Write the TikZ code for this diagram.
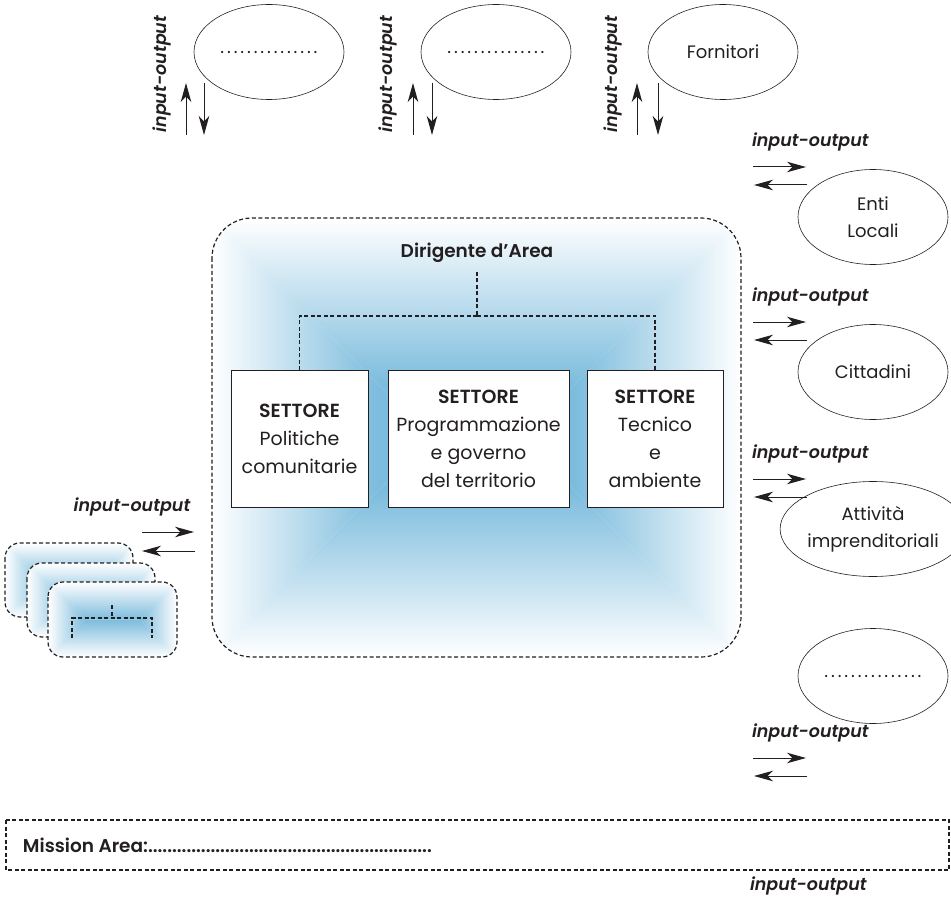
\documentclass[tikz,border=0pt]{standalone}
\usepackage{fontspec}
\setmainfont{Poppins}[BoldFont={Poppins SemiBold}, BoldItalicFont={Poppins SemiBold Italic}]
\usetikzlibrary{arrows.meta,shapes.geometric}
\definecolor{glow}{RGB}{124,188,221}
\definecolor{ink}{RGB}{35,31,32}
% main-box shadings (fade over the outer three quarters of the depth)
\pgfdeclareverticalshading{glowT}{100bp}{color(0bp)=(glow); color(37bp)=(glow); color(75bp)=(white); color(100bp)=(white)}
\pgfdeclareverticalshading{glowB}{100bp}{color(0bp)=(white); color(25bp)=(white); color(63bp)=(glow); color(100bp)=(glow)}
\pgfdeclarehorizontalshading{glowL}{100bp}{color(0bp)=(white); color(25bp)=(white); color(63bp)=(glow); color(100bp)=(glow)}
\pgfdeclarehorizontalshading{glowR}{100bp}{color(0bp)=(glow); color(37bp)=(glow); color(75bp)=(white); color(100bp)=(white)}
% full-depth shadings for the small boxes
\pgfdeclareverticalshading{glowTf}{100bp}{color(0bp)=(glow); color(25bp)=(glow); color(75bp)=(white); color(100bp)=(white)}
\pgfdeclareverticalshading{glowBf}{100bp}{color(0bp)=(white); color(25bp)=(white); color(75bp)=(glow); color(100bp)=(glow)}
\pgfdeclarehorizontalshading{glowLf}{100bp}{color(0bp)=(white); color(25bp)=(white); color(75bp)=(glow); color(100bp)=(glow)}
\pgfdeclarehorizontalshading{glowRf}{100bp}{color(0bp)=(glow); color(25bp)=(glow); color(75bp)=(white); color(100bp)=(white)}
% #1 x0, #2 y0, #3 x1, #4 y1, #5 radius, #6 shading suffix
\newcommand\glowrect[6]{%
  \pgfmathsetmacro\ghh{(#4-#2)/2}%
  \pgfmathsetmacro\gym{(#2+#4)/2}%
  \pgfmathsetmacro\gxa{#1+\ghh}%
  \pgfmathsetmacro\gxb{#3-\ghh}%
  \begin{scope}
    \clip[rounded corners=#5] (#1,#2) rectangle (#3,#4);
    \fill[white] (#1,#2) rectangle (#3,#4);
    \shade[shading=glowT#6] (#1,#2) -- (#3,#2) -- (\gxb,\gym) -- (\gxa,\gym) -- cycle;
    \shade[shading=glowB#6] (#1,#4) -- (#3,#4) -- (\gxb,\gym) -- (\gxa,\gym) -- cycle;
    \shade[shading=glowL#6] (#1,#2) -- (#1,#4) -- (\gxa,\gym) -- cycle;
    \shade[shading=glowR#6] (#3,#2) -- (#3,#4) -- (\gxb,\gym) -- cycle;
  \end{scope}
  \draw[org, rounded corners=#5] (#1,#2) rectangle (#3,#4);
}
\begin{document}
\begin{tikzpicture}[x=1pt,y=-1pt,
  every node/.style={inner sep=0pt, outer sep=0pt, text=ink},
  bub/.style={draw=ink, line width=0.6pt, ellipse, minimum width=150pt, minimum height=95pt, align=center, font=\fontsize{18}{27}\selectfont},
  io/.style={font=\fontsize{17.5}{20}\selectfont\bfseries\itshape},
  flow/.style={draw=ink, line width=1pt, -{Stealth[length=19pt,width=10.5pt,inset=5.5pt]}},
  org/.style={draw=ink, dash pattern=on 4pt off 2.5pt, line width=1.2pt},
  sbox/.style={draw=ink, fill=white, line width=0.9pt, minimum height=137pt, align=center, font=\fontsize{19}{28}\selectfont},
  dotline/.style={font=\fontsize{18}{20}\selectfont\addfontfeature{LetterSpace=16}}
]
\useasboundingbox (0,0) rectangle (951,912);

% ---------- top ellipses ----------
\node[bub] (e1) at (269,52) {};
\node[bub] (e2) at (496,52) {};
\node[bub] (e3) at (723,52) {Fornitori};
\node[dotline] (e1t) at (e1.center) {...............};
\node[dotline] (e2t) at (e2.center) {...............};
\node[io, rotate=90] (l1) at (162,74) {input-output};
\node[io, rotate=90] (l2) at (388,74) {input-output};
\node[io, rotate=90] (l3) at (613,74) {input-output};
\foreach \ux/\dx/\n in {186/204/1, 413/432/2, 637/658/3}{
  \coordinate (ua\n) at (\ux,135); \coordinate (ub\n) at (\ux,83);
  \coordinate (da\n) at (\dx,83);  \coordinate (db\n) at (\dx,135);
  \draw[flow] (ua\n) -- (ub\n);
  \draw[flow] (da\n) -- (db\n);
}

% ---------- right side ----------
\node[bub] (r1) at (873,217) {Enti\\Locali};
\node[bub] (r2) at (873,372) {Cittadini};
\node[bub] (r3) at (873,529) {Attività\\imprenditoriali};
\node[bub] (r4) at (873,676) {};
\node[dotline] (r4t) at (r4.center) {...............};
\foreach \ly/\n in {142/1, 297/2, 454/3, 733/4}{
  \node[io, anchor=west] (rl\n) at (752,\ly) {input-output};
  \coordinate (ra\n) at (753,\ly+25); \coordinate (rb\n) at (806,\ly+25);
  \coordinate (la\n) at (807,\ly+43); \coordinate (lb\n) at (754,\ly+43);
  \draw[flow] (ra\n) -- (rb\n);
  \draw[flow] (la\n) -- (lb\n);
}

% ---------- left side ----------
\node[io] (ll) at (132,507) {input-output};
\coordinate (lra) at (142,532); \coordinate (lrb) at (194,532);
\coordinate (lla) at (195,551); \coordinate (llb) at (142,551);
\draw[flow] (lra) -- (lrb);
\draw[flow] (lla) -- (llb);
\glowrect{5}{543}{133}{617}{15}{f}
\glowrect{27}{563}{155}{637}{15}{f}
\glowrect{48}{582}{177}{657}{15}{f}
\coordinate (m0) at (112,605); \coordinate (m1) at (112,618);
\coordinate (m2) at (72,638); \coordinate (m3) at (152,638);
\draw[org] (m0) -- (m1);
\draw[org] (m2) |- (m1) -| (m3);

% ---------- main area ----------
\glowrect{212}{218}{741}{657}{40}{}
\node[font=\fontsize{18.5}{22}\selectfont\bfseries] (d) at (477,253) {Dirigente d’Area};
\node[sbox, minimum width=137pt] (s1) at (299.5,439) {\textbf{SETTORE}\\Politiche\\comunitarie};
\node[sbox, minimum width=181pt] (s2) at (478.5,439) {\textbf{SETTORE}\\Programmazione\\e governo\\del territorio};
\node[sbox, minimum width=136pt] (s3) at (655,439) {\textbf{SETTORE}\\Tecnico\\e\\ambiente};
\coordinate (dj) at (477,316);
\draw[org] (477,272) -- (dj);
\draw[org] (dj) -| (s1.north);
\draw[org] (dj) -| (s3.north);

% ---------- mission ----------
\draw[org] (6,820) rectangle (949,870);
\node[anchor=west, font=\fontsize{18.5}{22}\selectfont\bfseries] (ms) at (23,845) {Mission Area:...........................................................};
\node[io, anchor=west] (bl) at (750,886) {input-output};
\end{tikzpicture}
\end{document}
